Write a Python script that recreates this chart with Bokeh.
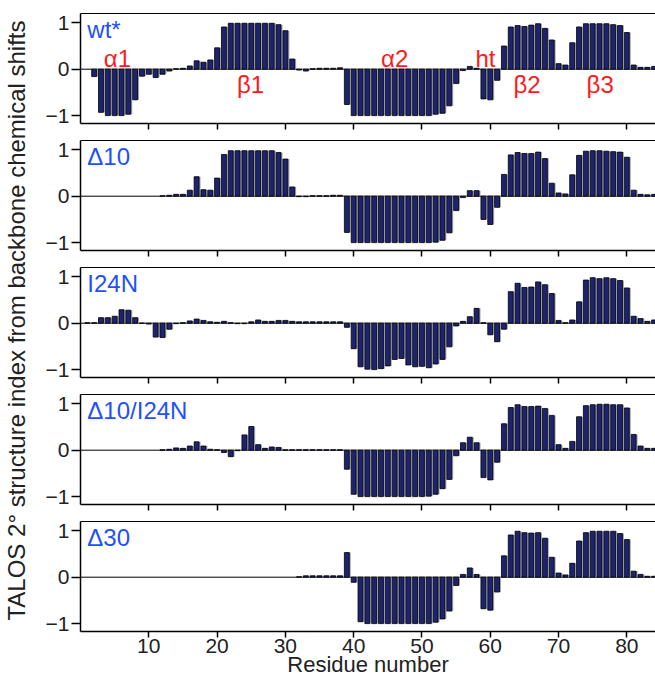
from bokeh.plotting import figure
from bokeh.models import (Range1d, FixedTicker, LinearAxis, Span, Label, Title,
                          ColumnDataSource)
from bokeh.transform import dodge
from bokeh.layouts import row, column
from bokeh.embed import file_html
from bokeh.resources import INLINE

# ---------------- data ----------------
residues = list(range(1, 85))

wt = [None, -0.16, -0.93, -1.0, -1.0, -1.0, -0.97, -0.66, -0.15, -0.11,
      -0.18, -0.11, -0.04, 0.01, 0.02, 0.07, 0.18, 0.15, 0.20, 0.46,
      0.91, 0.99, 0.99, 0.99, 0.99, 0.99, 0.99, 0.99, 0.96, 0.83,
      0.22, -0.02, -0.04, 0.01, 0.02, 0.02, 0.02, 0.03, -0.76, -1.0,
      -1.0, -1.0, -1.0, -1.0, -1.0, -1.0, -1.0, -1.0, -1.0, -1.0,
      -1.0, -0.97, -0.95, -0.79, -0.31, -0.03, 0.06, 0.02, -0.64, -0.66,
      -0.24, 0.50, 0.91, 0.94, 0.92, 0.95, 0.98, 0.88, 0.63, 0.12,
      0.09, 0.57, 0.91, 0.98, 0.98, 0.98, 0.98, 0.96, 0.94, 0.79,
      0.09, 0.04, 0.04, 0.06]

d10 = [None, None, None, None, None, None, None, None, None, None,
       None, 0.01, 0.02, 0.04, 0.04, 0.13, 0.42, 0.14, 0.13, 0.39,
       0.90, 0.98, 0.98, 0.98, 0.98, 0.98, 0.98, 0.98, 0.94, 0.80,
       0.20, -0.01, -0.01, 0.01, 0.01, 0.01, 0.02, 0.02, -0.78, -1.0,
       -1.0, -1.0, -1.0, -1.0, -1.0, -1.0, -1.0, -1.0, -1.0, -1.0,
       -1.0, -0.99, -0.95, -0.79, -0.31, -0.03, 0.12, 0.12, -0.50, -0.61,
       -0.24, 0.47, 0.89, 0.94, 0.92, 0.92, 0.95, 0.81, 0.28, 0.07,
       0.05, 0.46, 0.88, 0.97, 0.98, 0.98, 0.97, 0.96, 0.95, 0.84,
       0.13, 0.04, 0.03, 0.04]

i24n = [0.01, 0.01, 0.12, 0.12, 0.15, 0.29, 0.28, 0.12, 0.0, -0.02,
        -0.30, -0.31, -0.13, -0.01, 0.01, 0.05, 0.09, 0.06, 0.03, 0.02,
        0.04, 0.01, -0.01, -0.01, 0.03, 0.07, 0.04, 0.04, 0.06, 0.06,
        0.04, 0.03, 0.03, 0.03, 0.03, 0.03, 0.03, 0.03, -0.09, -0.55,
        -0.94, -0.99, -1.0, -0.98, -0.92, -0.78, -0.76, -0.90, -0.94, -0.93,
        -0.96, -0.88, -0.78, -0.51, -0.06, 0.04, 0.14, 0.32, 0.01, -0.25,
        -0.40, -0.13, 0.68, 0.86, 0.77, 0.78, 0.89, 0.83, 0.64, 0.06,
        0.01, 0.07, 0.46, 0.93, 0.98, 0.96, 0.98, 0.96, 0.92, 0.76,
        0.15, 0.10, 0.04, 0.07]

d10_i24n = [None, None, None, None, None, None, None, None, None, None,
            None, 0.01, 0.02, 0.05, 0.04, 0.09, 0.18, 0.09, 0.02, 0.01,
            -0.05, -0.14, -0.01, 0.33, 0.51, 0.12, 0.04, 0.07, 0.06, 0.01,
            0.01, 0.01, 0.01, 0.01, 0.01, 0.01, 0.01, 0.01, -0.41, -0.95,
            -1.0, -1.0, -1.0, -1.0, -1.0, -1.0, -1.0, -1.0, -1.0, -1.0,
            -0.99, -0.95, -0.83, -0.63, -0.12, 0.16, 0.28, 0.16, -0.59, -0.64,
            -0.26, 0.57, 0.92, 0.98, 0.94, 0.94, 0.95, 0.90, 0.75, 0.12,
            0.04, 0.19, 0.72, 0.96, 0.98, 0.99, 0.99, 0.98, 0.98, 0.91,
            0.34, 0.09, 0.04, 0.04]

d30 = [None, None, None, None, None, None, None, None, None, None,
       None, None, None, None, None, None, None, None, None, None,
       None, None, None, None, None, None, None, None, None, None,
       None, 0.01, 0.03, 0.03, 0.03, 0.03, 0.03, 0.03, 0.53, -0.11,
       -0.96, -1.0, -1.0, -1.0, -1.0, -1.0, -1.0, -1.0, -1.0, -1.0,
       -1.0, -0.97, -0.90, -0.73, -0.18, 0.06, 0.20, 0.06, -0.68, -0.71,
       -0.32, 0.46, 0.91, 0.99, 0.96, 0.95, 0.96, 0.84, 0.43, 0.09,
       0.05, 0.30, 0.78, 0.96, 0.99, 0.99, 0.99, 0.99, 0.94, 0.81,
       0.13, 0.06, 0.02, 0.02]

panel_names = ["wt*", "Δ10", "I24N", "Δ10/I24N", "Δ30"]
panel_series = [wt, d10, i24n, d10_i24n, d30]

x_ticks = [10, 20, 30, 40, 50, 60, 70, 80]
y_ticks = [-1, 0, 1]

# secondary-structure annotations (wt* panel)
ss_labels = ["α1", "β1", "α2", "ht", "β2", "β3"]
ss_x = [5.4, 24.9, 46.0, 59.3, 65.4, 76.1]
ss_y = [0.23, -0.33, 0.23, 0.23, -0.33, -0.33]

# ---------------- style ----------------
FONT = "Liberation Sans"
NAVY = "#1d2371"
SHADOW = "#a8a8a8"
BLUE = "#1f4fff"
RED = "#ff1a1a"
INK = "#222222"

FRAME_H = 110
panels = []
n = len(panel_names)
for i, (name, vals) in enumerate(zip(panel_names, panel_series)):
    last = i == n - 1
    first = i == 0
    mb_top = 13 if first else 5
    mb_bot = 52 if last else 12
    p = figure(width=625, height=mb_top + FRAME_H + mb_bot,
               x_range=Range1d(0, 84.2), y_range=Range1d(-1.17, 1.2),
               toolbar_location=None, output_backend="svg",
               min_border_left=50, min_border_right=0, min_border_top=mb_top,
               min_border_bottom=mb_bot, outline_line_color=None)
    p.grid.visible = False

    xs = [r for r, v in zip(residues, vals) if v is not None]
    ys = [v for v in vals if v is not None]
    src = ColumnDataSource(dict(res=xs, val=ys))

    p.add_layout(Span(location=0, dimension="width", line_color="black",
                      line_width=1, level="underlay"))
    p.vbar(x=dodge("res", 0.22, range=p.x_range), top="val", bottom=0,
           width=0.72, fill_color=SHADOW, line_color=None, source=src)
    p.vbar(x="res", top="val", bottom=0, width=0.72, fill_color=NAVY,
           line_color="black", line_width=0.8, source=src)

    # x axis
    xa = p.xaxis[0]
    xa.ticker = FixedTicker(ticks=x_ticks)
    xa.major_tick_out = 6
    xa.major_tick_in = 0
    xa.minor_tick_line_color = None
    xa.axis_line_width = 1.5
    xa.major_tick_line_width = 1.5
    if last:
        xa.major_label_text_font_size = "21px"
        xa.major_label_text_font = FONT
        xa.major_label_text_color = INK
        xa.major_label_standoff = 1
        xa.axis_label = "Residue number"
        xa.axis_label_text_font = FONT
        xa.axis_label_text_font_size = "22px"
        xa.axis_label_text_font_style = "normal"
        xa.axis_label_text_color = INK
        xa.axis_label_standoff = -4
    else:
        xa.major_label_text_font_size = "1px"
        xa.major_label_text_color = None
        xa.major_label_standoff = 0

    # y axis
    ya = p.yaxis[0]
    ya.ticker = FixedTicker(ticks=y_ticks)
    ya.major_label_overrides = {-1: "−1"}
    ya.major_tick_out = 9
    ya.major_tick_in = 0
    ya.minor_tick_line_color = None
    ya.axis_line_width = 1.5
    ya.major_tick_line_width = 1.5
    ya.major_label_text_font_size = "21px"
    ya.major_label_text_font = FONT
    ya.major_label_text_color = INK
    ya.major_label_standoff = 2

    # top border line
    top = LinearAxis(ticker=FixedTicker(ticks=[]), major_label_text_font_size="1px",
                     major_label_text_color=None,
                     major_label_standoff=0, major_tick_out=0, major_tick_in=0,
                     minor_tick_out=0, minor_tick_in=0, axis_line_width=1)
    p.add_layout(top, "above")

    p.add_layout(Label(x=1.0, y=0.86, text=name, text_color=BLUE,
                       text_font=FONT, text_font_size="24px",
                       text_baseline="middle", text_align="left"))

    if first:
        for t, lx, ly in zip(ss_labels, ss_x, ss_y):
            p.add_layout(Label(x=lx, y=ly, text=t, text_color=RED,
                               text_font=FONT, text_font_size="24px",
                               text_baseline="middle", text_align="center"))
    panels.append(p)

total_h = sum(pp.height for pp in panels)
lab = figure(width=30, height=total_h, toolbar_location=None, output_backend="svg",
             x_axis_location=None, y_axis_location=None,
             min_border_left=0, min_border_right=0, min_border_top=0,
             min_border_bottom=43, outline_line_color=None)
lab.grid.visible = False
lab.add_layout(Title(text="TALOS 2° structure index from backbone chemical shifts",
                     text_font=FONT, text_font_size="24px", text_font_style="normal",
                     text_color=INK, align="center", standoff=0, offset=0),
               "left")

layout = row(lab, column(*panels))

open("out.html", "w").write(file_html(layout, INLINE))
